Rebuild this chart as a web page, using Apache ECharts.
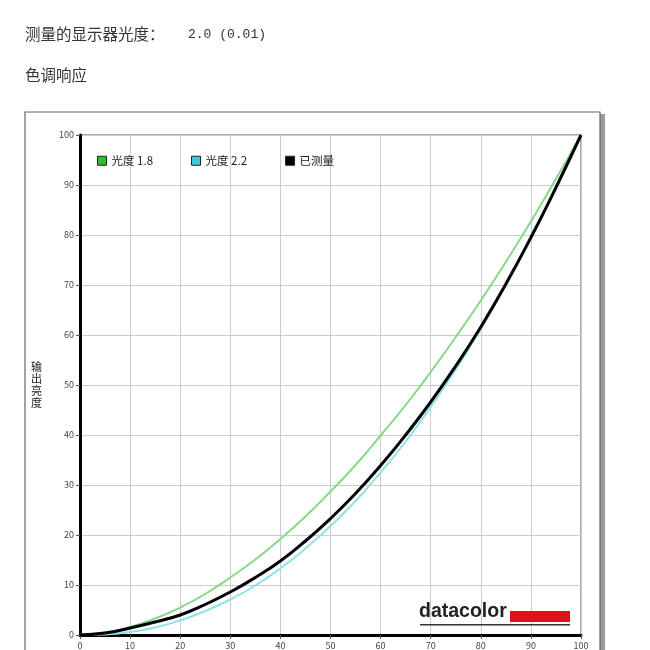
<!DOCTYPE html>
<html><head><meta charset="utf-8">
<script src="https://cdn.jsdelivr.net/npm/echarts@6/dist/echarts.min.js"></script>
<style>html,body{margin:0;padding:0;background:#fff}#c{width:650px;height:650px}</style>
</head><body><div id="c"></div>
<script>
var xInput = [0,5,10,15,20,25,30,35,40,45,50,55,60,65,70,75,80,85,90,95,100];
var gamma18 = [0,0.5,1.6,3.3,5.5,8.2,11.5,15.1,19.2,23.7,28.7,34.0,39.9,46.0,52.6,59.6,66.9,74.6,82.7,91.2,100];
var gamma22 = [0,0.1,0.6,1.5,2.9,4.8,7.1,9.9,13.3,17.3,21.8,26.8,32.5,38.7,45.6,53.1,61.2,69.9,79.3,89.3,100];
var measured = [0,0.4,1.4,2.6,4.0,6.1,8.6,11.5,14.8,18.8,23.3,28.3,33.9,40.0,46.6,53.8,61.6,70.2,79.5,89.5,100];
var seriesNames = ['光度 1.8','光度 2.2','已测量'];
var headerLabel = '测量的显示器光度：';
var headerValue = '2.0 (0.01)';
var headerLine2 = '色调响应';
var yAxisName = '输出亮度';

function pairs(ys){ return xInput.map(function(x,i){ return [x, ys[i]]; }); }

var chart = echarts.init(document.getElementById('c'));
var font = '"Noto Sans CJK SC", "DejaVu Sans", sans-serif';
chart.setOption({
  animation: false,
  backgroundColor: '#fff',
  textStyle: { fontFamily: font },
  graphic: [
    { type: 'rect', z: -10, shape: { x: 27, y: 114, width: 578, height: 560 }, style: { fill: '#9a9a9a' } },
    { type: 'rect', z: -9, shape: { x: 25, y: 112, width: 575, height: 560 }, style: { fill: '#fff', stroke: '#666', lineWidth: 1.2 } },
    { type: 'text', left: 25, top: 26, style: { text: headerLabel, fill: '#333', font: '15.5px ' + font } },
    { type: 'text', left: 188, top: 28, style: { text: headerValue, fill: '#333', font: '13px "Liberation Mono", "DejaVu Sans Mono", monospace' } },
    { type: 'text', left: 25, top: 67, style: { text: headerLine2, fill: '#333', font: '15.5px ' + font } },
    { type: 'text', left: 419, top: 602, z: 10, style: { text: 'datacolor', fill: '#222', font: 'bold 19.5px "Liberation Sans", sans-serif' } },
    { type: 'rect', z: 10, shape: { x: 510, y: 611, width: 60, height: 11 }, style: { fill: '#e2121c' } },
    { type: 'rect', z: 10, shape: { x: 420, y: 624, width: 150, height: 1.5 }, style: { fill: '#333' } }
  ],
  grid: { left: 80, top: 135, right: 69, bottom: 15, show: true, borderColor: '#555', borderWidth: 1, backgroundColor: 'transparent' },
  legend: {
    left: 92, top: 150, itemWidth: 9, itemHeight: 9, itemGap: 38, icon: 'rect',
    textStyle: { fontSize: 11.5, color: '#222' },
    itemStyle: { borderColor: '#222', borderWidth: 1 },
    data: seriesNames
  },
  xAxis: {
    type: 'value', min: 0, max: 100, interval: 10,
    axisLine: { show: true, onZero: false, lineStyle: { color: '#000', width: 3 } },
    axisTick: { show: true, length: 4, lineStyle: { color: '#555' } },
    axisLabel: { fontSize: 9, color: '#444', margin: 6 },
    splitLine: { show: true, lineStyle: { color: '#ccc', width: 1 } }
  },
  yAxis: {
    type: 'value', min: 0, max: 100, interval: 10,
    name: yAxisName.split('').join('\n'), nameLocation: 'middle', nameGap: 38, nameRotate: 0,
    nameTextStyle: { fontSize: 11, color: '#222', lineHeight: 12 },
    axisLine: { show: true, onZero: false, lineStyle: { color: '#000', width: 3 } },
    axisTick: { show: true, length: 4, lineStyle: { color: '#555' } },
    axisLabel: { fontSize: 9, color: '#444', margin: 6 },
    splitLine: { show: true, lineStyle: { color: '#ccc', width: 1 } }
  },
  series: [
    { name: seriesNames[0], type: 'line', smooth: true, symbol: 'none', data: pairs(gamma18),
      itemStyle: { color: '#2bc02b' }, lineStyle: { color: '#86d98a', width: 2 }, z: 2 },
    { name: seriesNames[1], type: 'line', smooth: true, symbol: 'none', data: pairs(gamma22),
      itemStyle: { color: '#35d0d8' }, lineStyle: { color: '#8ee3ea', width: 2 }, z: 2 },
    { name: seriesNames[2], type: 'line', smooth: true, symbol: 'none', data: pairs(measured),
      itemStyle: { color: '#000' }, lineStyle: { color: '#000', width: 3 }, z: 3 }
  ]
});
</script></body></html>
